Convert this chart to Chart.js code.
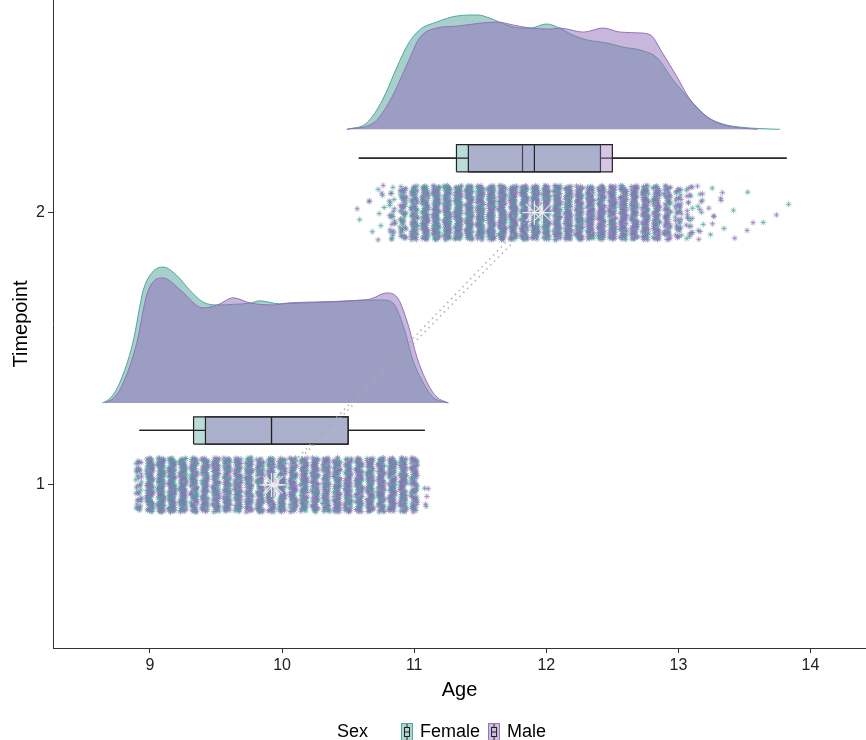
<!DOCTYPE html>
<html>
<head>
<meta charset="utf-8">
<script src="https://cdn.jsdelivr.net/npm/chart.js@4/dist/chart.umd.min.js"></script>
<style>
html,body{margin:0;padding:0;background:#fff;}
#wrap{width:866px;height:740px;}
</style>
</head>
<body>
<div id="wrap"><canvas id="c" width="866" height="740"></canvas></div>
<script>
// ---------------- DATA ----------------
const sexes = ['Female', 'Male'];
const legendTitle = 'Sex';
const timepoints = [1, 2];
const xTickValues = [9, 10, 11, 12, 13, 14];
const yTickValues = [1, 2];

// Density (half-violin) curves: age and density height
const densT1FemaleAge = [8.64, 8.70, 8.77, 8.87, 8.95, 9.02, 9.10, 9.20, 9.30, 9.40, 9.51, 9.63, 9.76, 9.83, 9.98, 10.14, 10.39, 10.64, 10.76, 10.84, 10.92, 10.99, 11.07, 11.14, 11.25];
const densT1FemaleH   = [0, 0.018, 0.073, 0.220, 0.415, 0.481, 0.499, 0.470, 0.415, 0.371, 0.360, 0.362, 0.367, 0.375, 0.364, 0.367, 0.371, 0.378, 0.378, 0.367, 0.279, 0.158, 0.073, 0.022, 0];
const densT1MaleAge   = [8.66, 8.72, 8.79, 8.90, 8.98, 9.10, 9.23, 9.40, 9.51, 9.63, 9.76, 9.93, 10.04, 10.26, 10.51, 10.67, 10.79, 10.87, 10.95, 11.02, 11.10, 11.17, 11.26];
const densT1MaleH     = [0, 0.016, 0.065, 0.220, 0.404, 0.459, 0.415, 0.349, 0.360, 0.386, 0.367, 0.360, 0.367, 0.371, 0.375, 0.382, 0.404, 0.389, 0.294, 0.169, 0.073, 0.022, 0];
const densT2FemaleAge = [10.49, 10.64, 10.76, 10.87, 10.95, 11.04, 11.17, 11.32, 11.48, 11.57, 11.70, 11.80, 11.88, 12.00, 12.10, 12.20, 12.31, 12.46, 12.58, 12.71, 12.84, 12.96, 13.09, 13.22, 13.34, 13.47, 13.60, 13.77];
const densT2FemaleH   = [0, 0.023, 0.108, 0.229, 0.310, 0.365, 0.394, 0.416, 0.420, 0.409, 0.383, 0.372, 0.372, 0.387, 0.372, 0.346, 0.328, 0.317, 0.302, 0.291, 0.262, 0.181, 0.108, 0.045, 0.019, 0.008, 0.003, 0];
const densT2MaleAge   = [10.49, 10.69, 10.82, 10.95, 11.04, 11.17, 11.32, 11.50, 11.63, 11.75, 11.88, 12.03, 12.10, 12.28, 12.43, 12.56, 12.71, 12.79, 12.88, 12.99, 13.09, 13.22, 13.34, 13.47, 13.60];
const densT2MaleH     = [0, 0.023, 0.108, 0.243, 0.335, 0.372, 0.379, 0.390, 0.394, 0.383, 0.372, 0.368, 0.372, 0.357, 0.372, 0.357, 0.354, 0.346, 0.280, 0.192, 0.108, 0.045, 0.016, 0.005, 0];

// Boxplot stats: [min, Q1, median, Q3, max]
const boxT1Female = [8.92, 9.33, 9.92, 10.50, 11.08];
const boxT1Male   = [8.92, 9.42, 9.92, 10.50, 11.08];
const boxT2Female = [10.58, 11.32, 11.82, 12.41, 13.82];
const boxT2Male   = [10.58, 11.41, 11.91, 12.50, 13.82];

// Means (age) per timepoint
const meanFemale = [9.92, 11.91];
const meanMale   = [9.94, 11.97];

// Raw ages (in months) and counts of participants at each month
const monthsT1 = [107,108,109,110,111,112,113,114,115,116,117,118,119,120,121,122,123,124,125,126,127,128,129,130,131,132,133];
const countsT1Female = [20,50,56,54,48,44,42,42,43,43,43,42,42,43,42,43,43,43,44,43,44,44,44,44,42,36,2];
const countsT1Male   = [18,46,50,50,46,42,42,44,44,43,42,42,42,42,43,43,43,43,44,44,44,45,46,46,44,38,3];
const monthsT2 = [127,128,129,130,131,132,133,134,135,136,137,138,139,140,141,142,143,144,145,146,147,148,149,150,151,152,153,154,155,156,157,158,159,160,161,162,163,164,165,166];
const countsT2Female = [1,2,5,14,28,40,46,50,52,52,52,51,50,48,47,47,48,48,47,45,44,43,42,41,41,40,39,37,30,20,12,6,3,2,1,1,0,1,0,1];
const countsT2Male   = [1,1,3,10,24,36,44,46,47,48,48,49,50,50,49,48,47,47,48,47,46,47,47,46,46,46,45,42,34,22,12,6,3,2,1,1,1,0,1,0];

// ---------------- STYLE / LAYOUT ----------------
const FONT = '"Liberation Sans", Arial, Helvetica, sans-serif';
const colF = [77, 161, 153], colM = [145, 109, 185];
const rgba = (c, a) => `rgba(${c[0]},${c[1]},${c[2]},${a})`;
const ridgeBase = [1.301, 2.306];   // baseline of each half-violin
const boxCenter = [1.2, 2.2], boxHalf = 0.05;
const JX = 0.025, JY = 0.1;        // jitter spread
const CHUNK = 7;                   // draw points in small same-sex runs

function halton(i, b) { let f = 1, r = 0; while (i > 0) { f /= b; r += f * (i % b); i = Math.floor(i / b); } return r; }
function cloud(months, cF, cM, tp, seed) {
  const pts = []; let kF = seed, kM = seed + 3000;
  months.forEach((m, j) => {
    let iF = 0, iM = 0;
    while (iF < cF[j] || iM < cM[j]) {
      for (let k = 0; k < CHUNK && iF < cF[j]; k++, iF++) { kF++; pts.push({x: m / 12 + (halton(kF, 2) - 0.5) * 2 * JX, y: tp + (halton(kF, 3) - 0.5) * 2 * JY, s: 0}); }
      for (let k = 0; k < CHUNK && iM < cM[j]; k++, iM++) { kM++; pts.push({x: m / 12 + (halton(kM, 5) - 0.5) * 2 * JX, y: tp + (halton(kM, 7) - 0.5) * 2 * JY, s: 1}); }
    }
  });
  return pts;
}

const datasets = [];
function density(ages, hs, base, c, order) {
  datasets.push({
    type: 'line', order,
    data: ages.map((a, i) => ({x: a, y: base + hs[i]})),
    borderColor: rgba(c, 0.95), borderWidth: 1,
    backgroundColor: rgba(c, 0.5),
    fill: {value: base}, pointRadius: 0, cubicInterpolationMode: 'monotone'
  });
}
density(densT1FemaleAge, densT1FemaleH, ridgeBase[0], colF, 100);
density(densT2FemaleAge, densT2FemaleH, ridgeBase[1], colF, 100);
density(densT1MaleAge, densT1MaleH, ridgeBase[0], colM, 99);
density(densT2MaleAge, densT2MaleH, ridgeBase[1], colM, 99);

// point clouds
[[monthsT1, countsT1Female, countsT1Male, timepoints[0], 0], [monthsT2, countsT2Female, countsT2Male, timepoints[1], 9000]].forEach(([m, f, ml, tp, sd]) => {
  datasets.push({
    type: 'scatter', order: 80,
    data: cloud(m, f, ml, tp, sd),
    pointStyle: 'star', pointRadius: 3, pointBorderWidth: 1, pointHoverRadius: 3,
    backgroundColor: 'rgba(0,0,0,0)',
    borderColor: ctx => (ctx.raw && ctx.raw.s ? rgba(colM, 0.6) : rgba(colF, 0.6))
  });
});

// boxes
function box(stats, yc, c, order) {
  const lo = yc - boxHalf, hi = yc + boxHalf;
  datasets.push({type: 'line', order, data: [{x: stats[1], y: hi}, {x: stats[3], y: hi}],
    borderWidth: 0, borderColor: 'rgba(0,0,0,0)', backgroundColor: rgba(c, 0.38), fill: {value: lo}, pointRadius: 0});
  datasets.push({type: 'line', order: order - 1, tension: 0, fill: false, pointRadius: 0, spanGaps: false,
    borderColor: '#222', borderWidth: 1.2,
    data: [{x: stats[1], y: lo}, {x: stats[1], y: hi}, {x: stats[3], y: hi}, {x: stats[3], y: lo}, {x: stats[1], y: lo},
      {x: stats[1], y: null},
      {x: stats[2], y: lo}, {x: stats[2], y: hi}, {x: stats[2], y: null},
      {x: stats[0], y: yc}, {x: stats[1], y: yc}, {x: stats[1], y: null},
      {x: stats[3], y: yc}, {x: stats[4], y: yc}]});
}
box(boxT1Female, boxCenter[0], colF, 60);
box(boxT2Female, boxCenter[1], colF, 60);
box(boxT1Male, boxCenter[0], colM, 50);
box(boxT2Male, boxCenter[1], colM, 50);

// mean connecting lines
[meanFemale, meanMale].forEach(mn => {
  datasets.push({type: 'line', order: 40, fill: false, pointRadius: 0, tension: 0,
    borderColor: 'rgba(170,170,170,0.9)', borderWidth: 1.6, borderDash: [1.5, 4],
    data: [{x: mn[0], y: timepoints[0]}, {x: mn[1], y: timepoints[1]}]});
});
// mean stars
datasets.push({type: 'scatter', order: 30,
  data: [{x: meanFemale[0], y: timepoints[0]}, {x: meanMale[0], y: timepoints[0]}, {x: meanFemale[1], y: timepoints[1]}, {x: meanMale[1], y: timepoints[1]}],
  pointStyle: 'star', pointRadius: 12, pointBorderWidth: 1.2, borderColor: 'rgba(240,240,240,0.9)', backgroundColor: 'rgba(0,0,0,0)'});

// legend glyphs
function glyph(c) {
  const cv = document.createElement('canvas'); cv.width = 12; cv.height = 18;
  const g = cv.getContext('2d');
  g.fillStyle = rgba(c, 0.45); g.fillRect(0, 0, 12, 18);
  g.strokeStyle = rgba(c, 0.9); g.lineWidth = 1; g.strokeRect(0.5, 0.5, 11, 17);
  g.strokeStyle = '#222';
  g.strokeRect(3.5, 4.5, 5, 9);
  g.beginPath(); g.moveTo(6, 1); g.lineTo(6, 4.5); g.moveTo(6, 13.5); g.lineTo(6, 17);
  g.moveTo(3.5, 9); g.lineTo(8.5, 9); g.stroke();
  return cv;
}
const blank = document.createElement('canvas'); blank.width = 1; blank.height = 1;
const legendItems = [
  {text: legendTitle + '     ', pointStyle: blank, fillStyle: 'rgba(0,0,0,0)', strokeStyle: 'rgba(0,0,0,0)', lineWidth: 0, hidden: false, fontColor: '#000'},
  {text: sexes[0], pointStyle: glyph(colF), fillStyle: 'rgba(0,0,0,0)', strokeStyle: 'rgba(0,0,0,0)', lineWidth: 0, hidden: false, fontColor: '#000'},
  {text: sexes[1], pointStyle: glyph(colM), fillStyle: 'rgba(0,0,0,0)', strokeStyle: 'rgba(0,0,0,0)', lineWidth: 0, hidden: false, fontColor: '#000'}
];

new Chart(document.getElementById('c'), {
  type: 'scatter',
  data: {datasets},
  options: {
    responsive: false, animation: false, devicePixelRatio: 1,
    events: [],
    layout: {autoPadding: false, padding: {top: 0, left: 0, right: 0, bottom: -11}},
    plugins: {
      tooltip: {enabled: false},
      legend: {
        display: true, position: 'bottom', align: 'center',
        labels: {usePointStyle: true, pointStyleWidth: 8, boxHeight: 18, padding: 10,
          font: {family: FONT, size: 18}, color: '#000',
          generateLabels: () => legendItems}
      }
    },
    scales: {
      x: {
        type: 'linear', min: 8.266, max: 14.42,
        afterBuildTicks: s => { s.ticks = xTickValues.map(v => ({value: v})); },
        afterFit: s => { s.height = 65; s.paddingLeft = 0; s.paddingRight = 0; },
        ticks: {autoSkip: false, color: '#222', font: {family: FONT, size: 16}, padding: 3, maxRotation: 0,
          callback: v => String(v)},
        grid: {display: true, drawOnChartArea: false, drawTicks: true, tickLength: 5, color: '#333', tickWidth: 1},
        border: {display: true, color: '#333', width: 1},
        title: {display: true, text: 'Age', color: '#000', font: {family: FONT, size: 20}, padding: {top: 0, bottom: 11}}
      },
      y: {
        type: 'linear', min: 0.401, max: 2.781,
        afterBuildTicks: s => { s.ticks = yTickValues.map(v => ({value: v})); },
        afterFit: s => { s.width = 53; s.paddingTop = 0; s.paddingBottom = 0; },
        ticks: {autoSkip: false, color: '#222', font: {family: FONT, size: 16}, padding: 3,
          callback: v => String(v)},
        grid: {display: true, drawOnChartArea: false, drawTicks: true, tickLength: 5, color: '#333', tickWidth: 1},
        border: {display: true, color: '#333', width: 1},
        title: {display: true, text: 'Timepoint', color: '#000', font: {family: FONT, size: 20}, padding: {top: 9, bottom: 0}}
      }
    }
  }
});
</script>
</body>
</html>
